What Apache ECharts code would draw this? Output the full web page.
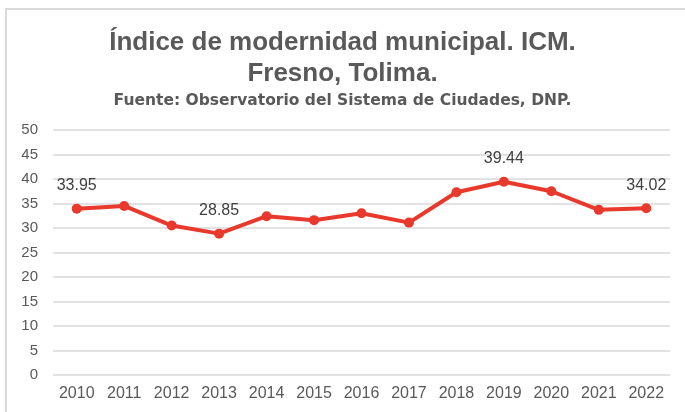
<!DOCTYPE html>
<html style="height: 100%">
   <head>
       <meta charset="utf-8">
   </head>
   <body style="height: 100%; margin: 0; background: #fff">
       <div id="container" style="width: 685px; height: 412px"></div>
       <script type="text/javascript" src="https://cdn.jsdelivr.net/npm/echarts@6/dist/echarts.min.js"></script>
       <script type="text/javascript">
        var years = ['2010','2011','2012','2013','2014','2015','2016','2017','2018','2019','2020','2021','2022'];
        var icm = [33.95, 34.5, 30.5, 28.85, 32.4, 31.6, 33.0, 31.1, 37.3, 39.44, 37.5, 33.7, 34.02];
        var labeled = ['2010', '2013', '2019', '2022'];

        var dom = document.getElementById("container");
        var myChart = echarts.init(dom);
        var grey = '#595959';

        var option = {
            animation: false,
            textStyle: { fontFamily: 'Liberation Sans, Arial, sans-serif' },
            graphic: [{
                type: 'rect',
                shape: { x: 6, y: 9, width: 700, height: 420 },
                style: { fill: 'none', stroke: '#d9d9d9', lineWidth: 2 }
            }],
            title: [{
                text: 'Índice de modernidad municipal. ICM.\nFresno, Tolima.',
                left: 'center',
                top: 22,
                textStyle: { fontSize: 26, fontWeight: 'bold', color: grey, lineHeight: 31 }
            }, {
                text: 'Fuente: Observatorio del Sistema de Ciudades, DNP.',
                left: 'center',
                top: 88,
                textStyle: { fontSize: 15.5, fontWeight: 'bold', color: grey, fontFamily: 'DejaVu Sans' }
            }],
            grid: { left: 53, right: 15, top: 130, bottom: 37 },
            xAxis: {
                type: 'category',
                data: years,
                axisLine: { show: false },
                axisTick: { show: false },
                axisLabel: { color: grey, fontSize: 16, margin: 11, interval: 0 }
            },
            yAxis: {
                type: 'value',
                min: 0,
                max: 50,
                interval: 5,
                axisLabel: { color: grey, fontSize: 15, margin: 15 },
                splitLine: { lineStyle: { color: '#d9d9d9', width: 1.5 } }
            },
            series: [{
                type: 'line',
                data: icm.map(function (v, i) {
                    return {
                        value: v,
                        label: { show: labeled.indexOf(years[i]) >= 0 }
                    };
                }),
                symbol: 'circle',
                symbolSize: 10,
                lineStyle: { color: '#E8392C', width: 4 },
                itemStyle: { color: '#E8392C' },
                label: {
                    position: 'top',
                    distance: 10,
                    color: '#404040',
                    fontSize: 16,
                    formatter: function (p) { return p.value.toFixed(2); }
                }
            }]
        };
        myChart.setOption(option);
       </script>
   </body>
</html>
